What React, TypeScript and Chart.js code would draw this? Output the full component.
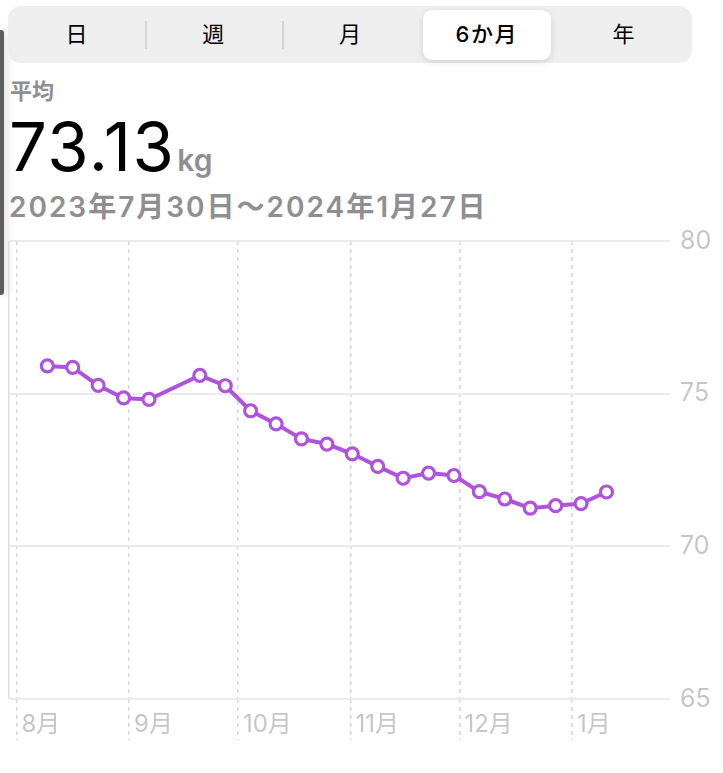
import React, { useEffect, useRef } from 'react';
import { Chart, registerables } from 'chart.js';

Chart.register(...registerables);

// ---- data ----
const START_DATE = '2023-07-30';
const RANGE_DAYS = 182;
const weekStarts = [
  '2023-08-06', '2023-08-13', '2023-08-20', '2023-08-27', '2023-09-03',
  '2023-09-17', '2023-09-24', '2023-10-01', '2023-10-08', '2023-10-15',
  '2023-10-22', '2023-10-29', '2023-11-05', '2023-11-12', '2023-11-19',
  '2023-11-26', '2023-12-03', '2023-12-10', '2023-12-17', '2023-12-24',
  '2023-12-31', '2024-01-07',
];
const weeklyAvgKg = [
  75.91, 75.86, 75.27, 74.86, 74.81,
  75.6, 75.26, 74.44, 74.01, 73.52,
  73.35, 73.03, 72.62, 72.23, 72.4,
  72.32, 71.79, 71.55, 71.25, 71.33,
  71.4, 71.78,
];
const monthStarts = ['2023-08-01', '2023-09-01', '2023-10-01', '2023-11-01', '2023-12-01', '2024-01-01'];
const monthLabels = ['8月', '9月', '10月', '11月', '12月', '1月'];
const yTicks = [65, 70, 75, 80];
const segments = ['日', '週', '月', '6か月', '年'];
const SELECTED = 3;
const AVERAGE_LABEL = '平均';
const AVERAGE_VALUE = '73.13';
const UNIT = 'kg';
const RANGE_LABEL = '2023年7月30日～2024年1月27日';

const dayOf = (s: string) =>
  (Date.parse(s + 'T00:00:00Z') - Date.parse(START_DATE + 'T00:00:00Z')) / 86400000;

const FONT = "Inter, 'Noto Sans CJK JP', sans-serif";
const PURPLE = '#af52de';

function WeightChart() {
  const ref = useRef<HTMLCanvasElement | null>(null);
  useEffect(() => {
    if (!ref.current) return;
    const monthDays = monthStarts.map(dayOf);
    const points = weekStarts.map((w, i) => ({ x: dayOf(w) + 3.5, y: weeklyAvgKg[i] }));
    const chart = new Chart(ref.current, {
      type: 'line',
      data: {
        datasets: [
          {
            data: points,
            borderColor: PURPLE,
            borderWidth: 4,
            tension: 0,
            pointRadius: 6,
            pointBorderWidth: 3.2,
            pointBackgroundColor: '#ffffff',
            pointBorderColor: PURPLE,
          },
        ],
      },
      options: {
        animation: false,
        responsive: true,
        maintainAspectRatio: false,
        layout: { padding: { left: 8.5, top: 0, right: 0, bottom: 33 } },
        plugins: { legend: { display: false }, tooltip: { enabled: false } },
        scales: {
          x: {
            type: 'linear',
            min: 0,
            max: RANGE_DAYS,
            position: 'bottom',
            afterBuildTicks: (scale: any) => {
              scale.ticks = [0, ...monthDays].map((v) => ({ value: v }));
            },
            afterFit: (scale: any) => {
              scale.height = 41;
            },
            ticks: {
              autoSkip: false,
              maxRotation: 0,
              minRotation: 0,
              align: 'start',
              labelOffset: 5,
              padding: -27,
              color: '#c6c6c8',
              font: { family: FONT, size: 24, lineHeight: 1 },
              callback: (v: any) => {
                const i = monthDays.indexOf(Number(v));
                return i >= 0 ? monthLabels[i] : '';
              },
            },
            grid: {
              color: (ctx: any) => (ctx.tick && ctx.tick.value === 0 ? '#dedede' : '#d6d6d6'),
              lineWidth: 1.5,
              drawTicks: true,
              tickLength: 41,
              tickWidth: 1.5,
              tickColor: (ctx: any) => (ctx.tick && ctx.tick.value === 0 ? 'rgba(0,0,0,0)' : '#d6d6d6'),
              tickBorderDash: [4, 4],
            },
            border: {
              display: false,
              dash: (ctx: any) => (ctx.tick && ctx.tick.value === 0 ? [] : [4, 4]),
            },
          },
          y: {
            type: 'linear',
            position: 'right',
            min: yTicks[0],
            max: yTicks[yTicks.length - 1],
            afterBuildTicks: (scale: any) => {
              scale.ticks = yTicks.map((v) => ({ value: v }));
            },
            afterFit: (scale: any) => {
              scale.width = 53;
            },
            ticks: {
              padding: 10,
              color: '#c6c6c8',
              font: { family: FONT, size: 25 },
            },
            grid: {
              color: '#ebebeb',
              lineWidth: 2,
              drawTicks: false,
            },
            border: { display: false },
          },
        },
      },
    });
    return () => chart.destroy();
  }, []);
  return <canvas ref={ref} />;
}

export default function App() {
  const segW = 684 / segments.length;
  return (
    <div
      style={{
        position: 'absolute',
        left: 0,
        top: 0,
        width: 723,
        height: 773,
        background: '#ffffff',
        overflow: 'hidden',
        fontFamily: FONT,
      }}
    >
      {/* side handle */}
      <div
        style={{
          position: 'absolute',
          left: 0,
          top: 30,
          width: 4,
          height: 265,
          background: '#5e5e5e',
          borderRadius: '0 3px 3px 0',
          boxShadow: '2px 0 10px rgba(0,0,0,0.22)',
        }}
      />
      {/* segmented control */}
      <div
        style={{
          position: 'absolute',
          left: 8,
          top: 6,
          width: 684,
          height: 57,
          background: '#eeeeef',
          borderRadius: 13,
        }}
      />
      <div
        style={{
          position: 'absolute',
          left: 423,
          top: 10,
          width: 128,
          height: 50,
          background: '#ffffff',
          borderRadius: 9,
          boxShadow: '0 2px 6px rgba(0,0,0,0.12)',
        }}
      />
      {[145, 282].map((x) => (
        <div
          key={x}
          style={{ position: 'absolute', left: x, top: 21, width: 1.5, height: 28, background: '#d3d3d6' }}
        />
      ))}
      {segments.map((s, i) => (
        <div
          key={s}
          style={{
            position: 'absolute',
            left: 8 + i * segW,
            top: 6,
            width: segW,
            height: 57,
            lineHeight: '57px',
            textAlign: 'center',
            fontSize: 22,
            fontWeight: i === SELECTED ? 500 : 400,
            color: '#000',
            letterSpacing: i === SELECTED ? 1.5 : 0,
          }}
        >
          {s}
        </div>
      ))}
      {/* header text */}
      <div
        style={{
          position: 'absolute',
          left: 10,
          top: 80,
          fontSize: 22,
          lineHeight: '22px',
          fontWeight: 600,
          color: '#8e8e93',
          whiteSpace: 'nowrap',
        }}
      >
        {AVERAGE_LABEL}
      </div>
      <div
        style={{
          position: 'absolute',
          left: 9,
          top: 113,
          fontSize: 67,
          lineHeight: '67px',
          fontWeight: 400,
          color: '#000',
          whiteSpace: 'nowrap',
          letterSpacing: 1.5,
        }}
      >
        {AVERAGE_VALUE}
        <span style={{ fontSize: 30, fontWeight: 600, color: '#8e8e93', marginLeft: 2, letterSpacing: 0 }}>
          {UNIT}
        </span>
      </div>
      <div
        style={{
          position: 'absolute',
          left: 9,
          top: 193,
          fontSize: 28,
          lineHeight: '28px',
          fontWeight: 600,
          color: '#8e8e93',
          whiteSpace: 'nowrap',
          letterSpacing: 2,
        }}
      >
        {RANGE_LABEL}
      </div>
      {/* chart */}
      <div style={{ position: 'absolute', left: 0, top: 216, width: 723, height: 557 }}>
        <WeightChart />
      </div>
    </div>
  );
}
